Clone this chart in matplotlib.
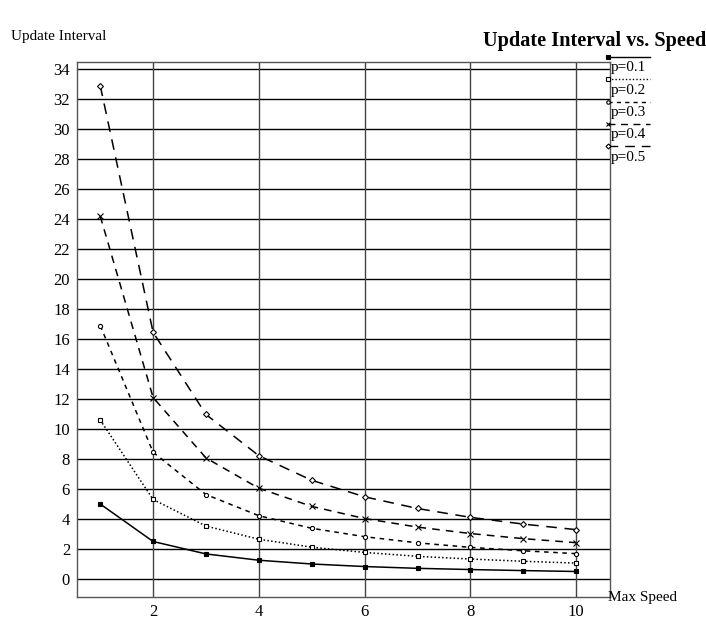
import matplotlib.pyplot as plt
from matplotlib.lines import Line2D

plt.rcParams['font.family'] = ['Liberation Serif', 'DejaVu Serif']

speed = [1, 2, 3, 4, 5, 6, 7, 8, 9, 10]
p01 = [5.0, 2.5, 1.67, 1.25, 1.0, 0.83, 0.71, 0.63, 0.56, 0.5]
p02 = [10.6, 5.3, 3.53, 2.65, 2.12, 1.77, 1.51, 1.33, 1.18, 1.06]
p03 = [16.9, 8.45, 5.63, 4.22, 3.38, 2.82, 2.41, 2.11, 1.88, 1.69]
p04 = [24.2, 12.1, 8.07, 6.05, 4.84, 4.03, 3.46, 3.03, 2.69, 2.42]
p05 = [32.9, 16.45, 10.97, 8.22, 6.58, 5.48, 4.7, 4.11, 3.66, 3.29]
labels = ['p=0.1', 'p=0.2', 'p=0.3', 'p=0.4', 'p=0.5']
xticks = [2, 4, 6, 8, 10]
yticks = list(range(0, 35, 2))

styles = [
    dict(ls='-', marker='s', mfc='black', ms=3.5),
    dict(ls=(0, (1, 1.5)), marker='s', mfc='white', ms=3.5),
    dict(ls=(0, (3, 3)), marker='o', mfc='white', ms=3),
    dict(ls=(0, (5, 4)), marker='x', mfc='black', ms=4),
    dict(ls=(0, (7, 5)), marker='D', mfc='white', ms=3),
]

fig = plt.figure(figsize=(7.06, 6.24), dpi=100)
ax = fig.add_axes([0.109, 0.0433, 0.755, 0.8573])

for y, st in zip([p01, p02, p03, p04, p05], styles):
    ax.plot(speed, y, color='black', lw=1.1, ls=st['ls'], marker=st['marker'],
            mfc=st['mfc'], mec='black', ms=st['ms'], mew=0.8)

ax.set_xlim(0.56, 10.64)
ax.set_ylim(-1.2, 34.47)
ax.set_xticks(xticks)
ax.set_yticks(yticks)
ax.tick_params(length=0, labelsize=12, pad=5)
for yy in yticks:
    ax.axhline(yy, color='black', lw=1.0, zorder=0)
for xx in xticks:
    ax.axvline(xx, color='#444444', lw=1.0, zorder=0)
for s in ax.spines.values():
    s.set_color('#555555')
    s.set_linewidth(1.0)

fig.text(1.0, 0.935, 'Update Interval vs. Speed', ha='right', va='center',
         fontsize=14.6, fontweight='bold')
fig.text(0.016, 0.942, 'Update Interval', ha='left', va='center', fontsize=11)
fig.text(0.861, 0.043, 'Max Speed', ha='left', va='center', fontsize=11)

# legend drawn by hand to the right of the axes
for i, (lab, st) in enumerate(zip(labels, styles)):
    ly = 1 - (57 + 22.3 * i) / 624
    fig.add_artist(Line2D([608 / 706, 650 / 706], [ly, ly], color='black', lw=1.0,
                          ls=st['ls'], transform=fig.transFigure))
    fig.add_artist(Line2D([608 / 706], [ly], color='black', marker=st['marker'],
                          mfc=st['mfc'], mec='black', ms=st['ms'] - 0.5, mew=0.8,
                          transform=fig.transFigure))
    fig.text(611 / 706, ly - 11 / 624, lab, ha='left', va='center', fontsize=11)

fig.savefig('out.png', dpi=100)
